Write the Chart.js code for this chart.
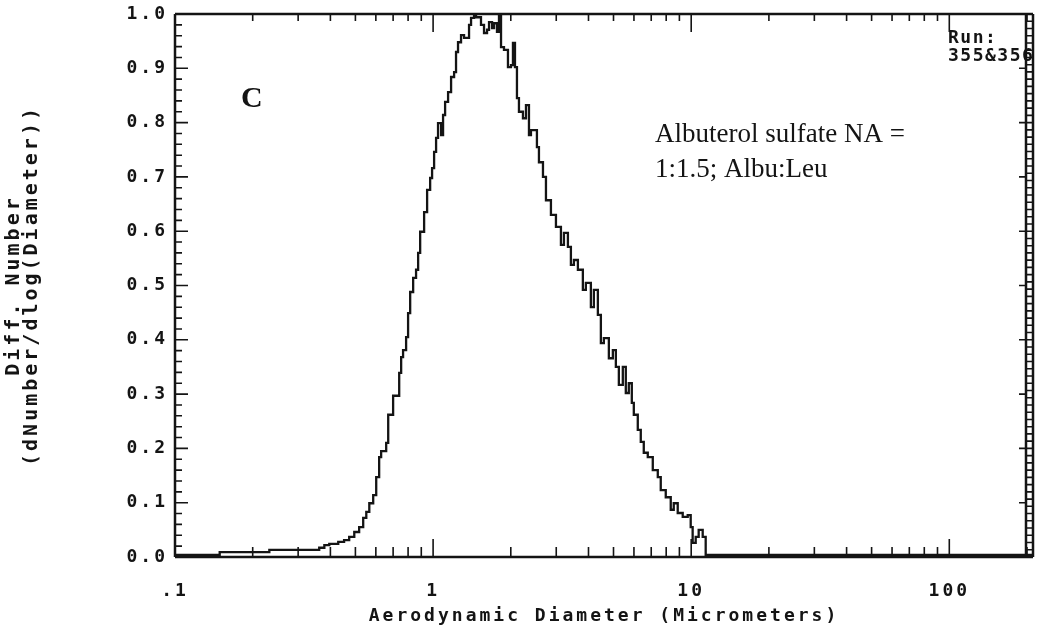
<!DOCTYPE html>
<html>
<head>
<meta charset="utf-8">
<script src="https://cdn.jsdelivr.net/npm/chart.js"></script>
<style>
  html, body { margin: 0; padding: 0; background: #fff; }
  canvas { display: block; }
</style>
</head>
<body>
<canvas id="apsChart" width="1050" height="627"></canvas>
<script>
// diameter at the left edge of each step (micrometers)
const diameters = [
  0.1, 0.149, 0.232, 0.362, 0.379, 0.396, 0.429, 0.452, 0.473, 0.495,
  0.517, 0.536, 0.551, 0.566, 0.586, 0.602, 0.618, 0.629, 0.658, 0.670,
  0.700, 0.739, 0.752, 0.765, 0.786, 0.800, 0.815, 0.837, 0.859, 0.875,
  0.891, 0.923, 0.948, 0.974, 0.991, 1.009, 1.027, 1.045, 1.074, 1.093,
  1.113, 1.143, 1.174, 1.206, 1.227, 1.249, 1.283, 1.318, 1.378, 1.403,
  1.441, 1.467, 1.533, 1.575, 1.618, 1.647, 1.692, 1.722, 1.768, 1.800,
  1.833, 1.882, 1.950, 2.003, 2.039, 2.076, 2.113, 2.151, 2.229, 2.290,
  2.352, 2.394, 2.525, 2.571, 2.665, 2.737, 2.861, 2.992, 3.128, 3.213,
  3.329, 3.419, 3.512, 3.639, 3.804, 3.907, 4.086, 4.197, 4.349, 4.467,
  4.587, 4.797, 4.971, 5.106, 5.244, 5.433, 5.580, 5.731, 5.887, 5.993,
  6.209, 6.377, 6.550, 6.788, 7.098, 7.422, 7.621, 7.969, 8.332, 8.558,
  8.867, 9.271, 9.694, 9.956, 10.13, 10.41, 10.69, 11.08, 11.38, 211
];
// normalised dN/dlogDp for each step
const diffNumber = [
  0.004, 0.009, 0.013, 0.017, 0.022, 0.024, 0.028, 0.031, 0.037, 0.046,
  0.055, 0.072, 0.083, 0.099, 0.114, 0.147, 0.184, 0.195, 0.210, 0.262,
  0.297, 0.339, 0.368, 0.381, 0.405, 0.449, 0.488, 0.514, 0.529, 0.560,
  0.599, 0.635, 0.676, 0.698, 0.716, 0.746, 0.772, 0.799, 0.777, 0.814,
  0.838, 0.856, 0.884, 0.893, 0.930, 0.948, 0.961, 0.956, 0.980, 0.993,
  1.000, 0.994, 0.980, 0.965, 0.971, 0.985, 0.974, 0.983, 0.967, 0.998,
  0.939, 0.934, 0.902, 0.906, 0.947, 0.902, 0.845, 0.820, 0.808, 0.832,
  0.777, 0.786, 0.755, 0.727, 0.700, 0.657, 0.630, 0.608, 0.575, 0.597,
  0.571, 0.538, 0.547, 0.529, 0.492, 0.505, 0.460, 0.492, 0.446, 0.394,
  0.403, 0.366, 0.381, 0.350, 0.317, 0.350, 0.302, 0.320, 0.284, 0.262,
  0.234, 0.212, 0.192, 0.184, 0.160, 0.147, 0.123, 0.110, 0.087, 0.099,
  0.081, 0.074, 0.077, 0.055, 0.026, 0.037, 0.050, 0.037, 0.004, 0.004
];

const xMin = 0.1;
const xMax = 211;
const xMajor = [0.1, 1, 10, 100];
const xMajorLabels = ['.1', '1', '10', '100'];
const yTicks = [0, 0.1, 0.2, 0.3, 0.4, 0.5, 0.6, 0.7, 0.8, 0.9, 1.0];

const panelLetter = 'C';
const noteLines = ['Albuterol sulfate NA =', '1:1.5; Albu:Leu'];
const runLines = ['Run:', '355&356'];

const ink = '#141414';
const mono = '"DejaVu Sans Mono", monospace';

// frame, inward ticks and notes, drawn from the chart's own scales
const framePlugin = {
  id: 'frame',
  beforeDraw(chart) {
    chart.ctx.letterSpacing = '3px';
  },
  afterDraw(chart) {
    const { ctx, chartArea: a, scales: { x, y } } = chart;
    ctx.save();
    ctx.strokeStyle = ink;
    ctx.lineWidth = 2.5;
    ctx.beginPath();
    ctx.moveTo(a.left, a.top);
    ctx.lineTo(a.right, a.top);
    ctx.moveTo(a.left, a.top);
    ctx.lineTo(a.left, a.bottom);
    ctx.moveTo(a.left, a.bottom);
    ctx.lineTo(a.right, a.bottom);
    ctx.stroke();

    // log ticks top and bottom
    ctx.lineWidth = 1.6;
    ctx.beginPath();
    xMajor.forEach(dec => {
      for (let k = 1; k <= 9; k++) {
        const v = dec * k;
        if (v > xMax) break;
        const px = x.getPixelForValue(v);
        const major = k === 1;
        ctx.moveTo(px, a.bottom);
        ctx.lineTo(px, a.bottom - (major ? 18 : 10));
        ctx.moveTo(px, a.top);
        ctx.lineTo(px, a.top + (major ? 18 : 7));
      }
    });
    // left ticks every 0.02
    for (let i = 0; i <= 50; i++) {
      const py = y.getPixelForValue(i * 0.02);
      ctx.moveTo(a.left, py);
      ctx.lineTo(a.left + (i % 5 === 0 ? 13 : 7), py);
    }
    ctx.stroke();

    // right edge: double rail with rungs
    const inner = a.right - 7;
    ctx.lineWidth = 2.5;
    ctx.beginPath();
    ctx.moveTo(inner, a.top);
    ctx.lineTo(inner, a.bottom);
    ctx.moveTo(a.right, a.top);
    ctx.lineTo(a.right, a.bottom);
    ctx.stroke();
    ctx.lineWidth = 1.6;
    ctx.beginPath();
    for (let i = 0; i <= 75; i++) {
      const py = y.getPixelForValue(i / 75);
      ctx.moveTo(inner, py);
      ctx.lineTo(a.right, py);
    }
    yTicks.forEach(v => {
      const py = y.getPixelForValue(v);
      ctx.moveTo(inner, py);
      ctx.lineTo(inner - 7, py);
    });
    ctx.stroke();

    // notes
    ctx.fillStyle = ink;
    ctx.textAlign = 'left';
    ctx.textBaseline = 'alphabetic';
    ctx.letterSpacing = '0px';
    ctx.font = 'bold 30px "Liberation Serif", serif';
    ctx.fillText(panelLetter, 241, 107);
    ctx.font = '27px "Liberation Serif", serif';
    ctx.fillText(noteLines[0], 655, 142);
    ctx.fillText(noteLines[1], 655, 177);
    ctx.font = 'bold 18px ' + mono;
    ctx.letterSpacing = '1.5px';
    ctx.fillText(runLines[0], 948, 43);
    ctx.fillText(runLines[1], 948, 61);
    ctx.restore();
  }
};

const points = diameters.map((d, i) => ({ x: d, y: diffNumber[i] }));

new Chart(document.getElementById('apsChart'), {
  type: 'line',
  data: {
    datasets: [{
      data: points,
      stepped: true,
      borderColor: ink,
      borderWidth: 2.3,
      pointRadius: 0,
      fill: false
    }]
  },
  options: {
    responsive: false,
    animation: false,
    layout: { padding: { top: 14, right: 17, bottom: 0, left: 0 } },
    plugins: {
      legend: { display: false },
      tooltip: { enabled: false }
    },
    scales: {
      x: {
        type: 'logarithmic',
        min: xMin,
        max: xMax,
        grid: { display: false, drawTicks: false },
        border: { display: false },
        afterBuildTicks: s => { s.ticks = xMajor.map(v => ({ value: v })); },
        afterFit: s => { s.height = 70; s.paddingLeft = 0; s.paddingRight = 0; },
        ticks: {
          autoSkip: false,
          maxRotation: 0,
          padding: 24,
          color: ink,
          font: { family: mono, size: 18, weight: 'bold' },
          callback: v => xMajorLabels[xMajor.indexOf(v)] ?? ''
        },
        title: {
          display: true,
          text: 'Aerodynamic Diameter (Micrometers)',
          color: ink,
          font: { family: mono, size: 18, weight: 'bold', lineHeight: 1.2 },
          padding: { top: 0, bottom: 0 }
        }
      },
      y: {
        min: 0,
        max: 1,
        grid: { display: false, drawTicks: false },
        border: { display: false },
        afterBuildTicks: s => { s.ticks = yTicks.map(v => ({ value: v })); },
        afterFit: s => { s.width = 175; s.paddingTop = 0; s.paddingBottom = 0; },
        ticks: {
          padding: 7,
          color: ink,
          font: { family: mono, size: 18, weight: 'bold' },
          callback: v => v.toFixed(1)
        },
        title: {
          display: true,
          text: ['Diff. Number', '(dNumber/dlog(Diameter))'],
          color: ink,
          font: { family: mono, size: 20, weight: 'bold', lineHeight: 0.9 },
          padding: { top: 5, bottom: 0 }
        }
      }
    }
  },
  plugins: [framePlugin]
});
</script>
</body>
</html>
